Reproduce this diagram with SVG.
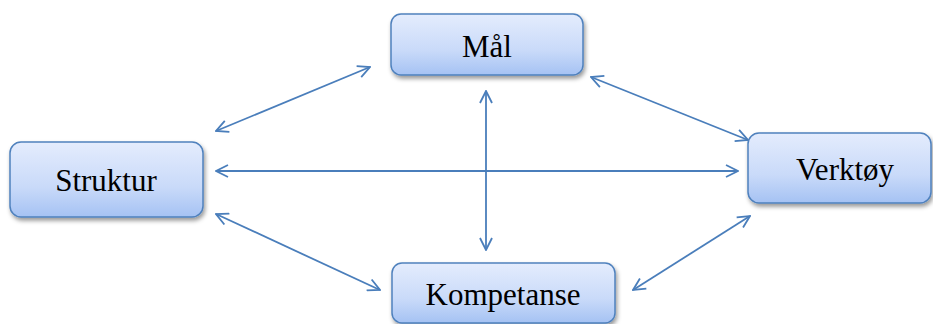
<svg xmlns="http://www.w3.org/2000/svg" width="933" height="324" viewBox="0 0 933 324">
<style>
.box{fill:url(#g);stroke:#4f81bd;stroke-width:1.5;filter:url(#sh)}
.lbl{font-family:"Liberation Serif","Times New Roman",serif;font-size:31px;fill:#000;text-anchor:middle}
.c{stroke:#4a7ebb;stroke-width:1.8;fill:none;marker-start:url(#a);marker-end:url(#a)}
</style>
<defs>
<linearGradient id="g" x1="0" y1="0" x2="0" y2="1">
<stop offset="0" stop-color="#e4ecfd"/>
<stop offset="0.6" stop-color="#c9daf9"/>
<stop offset="1" stop-color="#a5c2f3"/>
</linearGradient>
<filter id="sh" x="-10%" y="-20%" width="125%" height="150%">
<feDropShadow dx="1.5" dy="3" stdDeviation="2" flood-color="#000" flood-opacity="0.4"/>
</filter>
<marker id="a" viewBox="0 0 14 14" refX="13" refY="7" markerWidth="14" markerHeight="14" markerUnits="userSpaceOnUse" orient="auto-start-reverse">
<path d="M1,1 L13,7 L1,13" fill="none" stroke="#4a7ebb" stroke-width="1.8"/>
</marker>
</defs>
<g id="connectors">
<line class="c" x1="216" y1="131" x2="370" y2="67"/>
<line class="c" x1="591" y1="77" x2="748" y2="140"/>
<line class="c" x1="216" y1="171" x2="738" y2="171"/>
<line class="c" x1="486" y1="91" x2="486" y2="250"/>
<line class="c" x1="216" y1="214" x2="380" y2="290"/>
<line class="c" x1="633" y1="290" x2="750" y2="216"/>
</g>
<g id="mal"><rect class="box" x="391" y="14" width="192" height="61" rx="10"/><text class="lbl" x="487" y="57">Mål</text></g>
<g id="struktur"><rect class="box" x="10" y="142" width="193" height="75" rx="11"/><text class="lbl" x="106" y="191">Struktur</text></g>
<g id="verktoy"><rect class="box" x="748" y="133" width="183" height="70" rx="11"/><text class="lbl" x="845" y="180">Verktøy</text></g>
<g id="kompetanse"><rect class="box" x="392" y="263" width="223" height="60" rx="10"/><text class="lbl" x="503" y="305">Kompetanse</text></g>
</svg>
